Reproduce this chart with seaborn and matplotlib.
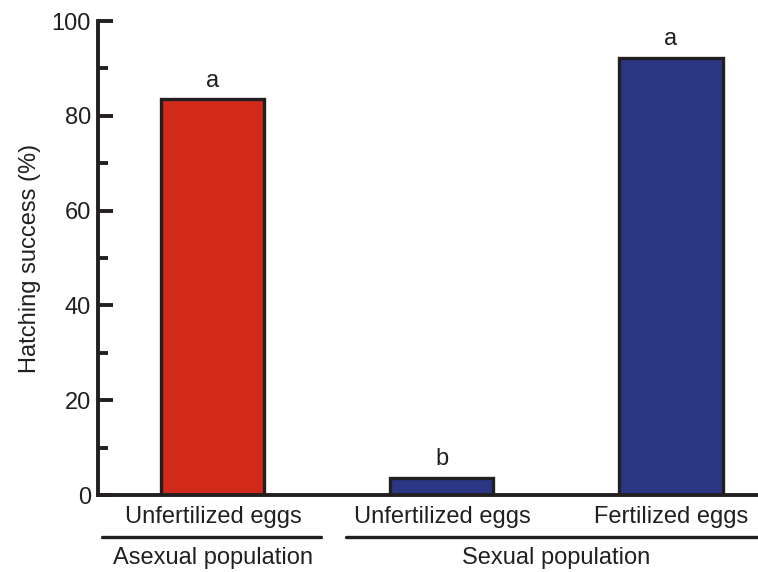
import matplotlib
matplotlib.use("Agg")
import matplotlib.pyplot as plt
import matplotlib.transforms as mtransforms
import seaborn as sns
import pandas as pd

# ---- data ----
categories = ["Unfertilized eggs (asexual)", "Unfertilized eggs (sexual)", "Fertilized eggs"]
tick_labels = ["Unfertilized eggs", "Unfertilized eggs", "Fertilized eggs"]
hatching = [83.5, 3.6, 92.2]
letters = ["a", "b", "a"]
groups = ["Asexual population", "Sexual population"]
bar_colors = ["#D12A1B", "#2B3785", "#2B3785"]

df = pd.DataFrame({"cat": categories, "val": hatching})

sns.set_theme(style="white")
plt.rcParams["font.family"] = ["Liberation Sans", "DejaVu Sans"]
ink = "#231F20"
fs = 17

fig = plt.figure(figsize=(7.58, 5.72), dpi=100)
ax = fig.add_axes([98 / 758, 1 - 495 / 572, 1 - 98 / 758, (495 - 21) / 572])

sns.barplot(data=df, x="cat", y="val", hue="cat", palette=bar_colors, legend=False,
            width=0.45, edgecolor=ink, linewidth=2.4, saturation=1, ax=ax)

ax.set_ylim(0, 100)
ax.set_xlim(-0.502, 2.38)
ax.set_yticks([0, 20, 40, 60, 80, 100])
ax.set_yticks([10, 30, 50, 70, 90], minor=True)
ax.tick_params(axis="y", which="major", direction="in", length=11, width=2.8,
               color=ink, labelsize=fs, labelcolor=ink, pad=5, left=True)
ax.tick_params(axis="y", which="minor", direction="in", length=7, width=2.8,
               color=ink, left=True)
ax.set_xticks([])
ax.set_xlabel("")
ax.set_ylabel("Hatching success (%)", fontsize=fs, color=ink, labelpad=8)

for s in ["top", "right"]:
    ax.spines[s].set_visible(False)
for s in ["left", "bottom"]:
    ax.spines[s].set_color(ink)
    ax.spines[s].set_linewidth(2.8)

# letters above bars
for i, (v, l) in enumerate(zip(hatching, letters)):
    ax.text(i, v + 1.6, l, ha="center", va="bottom", fontsize=fs, color=ink)

trans = mtransforms.blended_transform_factory(ax.transData, ax.transAxes)
for i, t in enumerate(tick_labels):
    ax.text(i, -0.046, t, ha="center", va="center", fontsize=fs, color=ink,
            transform=trans, clip_on=False)

# group lines and labels
ax.plot([-0.485, 0.472], [-0.0886, -0.0886], color=ink, lw=2.4, transform=trans, clip_on=False)
ax.plot([0.581, 2.38], [-0.0886, -0.0886], color=ink, lw=2.4, transform=trans, clip_on=False)
ax.text(0, -0.133, groups[0], ha="center", va="center", fontsize=fs, color=ink,
        transform=trans, clip_on=False)
ax.text(1.5, -0.133, groups[1], ha="center", va="center", fontsize=fs, color=ink,
        transform=trans, clip_on=False)

fig.savefig("out.png", dpi=100)
